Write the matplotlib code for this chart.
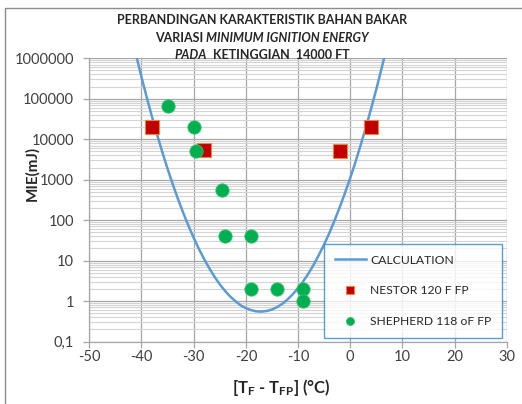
import matplotlib
matplotlib.use("Agg")
import matplotlib.pyplot as plt
from matplotlib.ticker import FixedLocator, LogLocator, NullFormatter
from matplotlib.patches import Rectangle

# ---- data ----
calc_x = list(range(-41, 8))
calc_mie = [1.15e6, 3.45e5, 1.1e5, 3.65e4, 1.29e4, 4.8e3, 1.87e3, 770, 333, 152,
            73, 37, 19.6, 11, 6.5, 4.0, 2.6, 1.8, 1.30, 1.0,
            0.79, 0.67, 0.60, 0.56, 0.55, 0.57, 0.62, 0.71, 0.86, 1.10,
            1.48, 2.08, 3.09, 4.8, 7.9, 13.8, 25, 48, 98, 209,
            468, 1096, 2700, 7100, 19500, 56000, 170000, 550000, 1860000]
nestor_x = [-38, -28, -2, 4]
nestor_mie = [20000, 5500, 5000, 20000]
shepherd_x = [-35, -30, -29.5, -24.5, -24, -19, -19, -14, -9, -9]
shepherd_mie = [65000, 20000, 5000, 560, 40, 40, 2, 2, 2, 1]
x_ticks = [-50, -40, -30, -20, -10, 0, 10, 20, 30]
x_tick_labels = ["-50", "-40", "-30", "-20", "-10", "0", "10", "20", "30"]
y_ticks = [0.1, 1, 10, 100, 1000, 10000, 100000, 1000000]
y_tick_labels = ["0,1", "1", "10", "100", "1000", "10000", "100000", "1000000"]
legend_labels = ["CALCULATION", "NESTOR 120 F FP", "SHEPHERD 118 oF FP"]

FONT = "Lato"
plt.rcParams["font.family"] = [FONT, "DejaVu Sans"]
plt.rcParams["axes.unicode_minus"] = False
plt.rcParams["mathtext.fontset"] = "custom"
plt.rcParams["mathtext.rm"] = FONT
plt.rcParams["mathtext.bf"] = FONT + ":bold"
plt.rcParams["mathtext.it"] = FONT + ":italic"

W, H = 522, 404
fig = plt.figure(figsize=(W / 100, H / 100), dpi=100)
fig.patch.set_facecolor("white")

def fx(px):
    return px / W

def fy(py):
    return 1 - py / H

# chart border (Excel chart area)
fig.add_artist(Rectangle((fx(5), fy(600)), fx(700), fy(8) - fy(600),
                         transform=fig.transFigure, fill=False,
                         edgecolor="#8c8c8c", lw=1.0))

ax_l, ax_r, ax_t, ax_b = 89.3, 506.7, 58.3, 341.6
ax = fig.add_axes([fx(ax_l), fy(ax_b), fx(ax_r - ax_l), fy(ax_t) - fy(ax_b)])
ax.set_facecolor("white")
ax.set_yscale("log")
ax.set_xlim(-50, 30)
ax.set_ylim(0.1, 1e6)

# grid
ax.xaxis.set_major_locator(FixedLocator(x_ticks))
ax.set_xticklabels(x_tick_labels)
ax.yaxis.set_major_locator(FixedLocator(y_ticks))
ax.yaxis.set_minor_locator(LogLocator(base=10, subs=range(2, 10), numticks=20))
ax.yaxis.set_minor_formatter(NullFormatter())
ax.set_yticklabels(y_tick_labels)
ax.grid(True, which="major", axis="both", color="#a6a6a6", lw=0.9)
ax.grid(True, which="minor", axis="y", color="#d4d4d4", lw=0.8)
ax.set_axisbelow(True)

for s in ["top", "right"]:
    ax.spines[s].set_visible(False)
for s in ["left", "bottom"]:
    ax.spines[s].set_color("#a6a6a6")
    ax.spines[s].set_linewidth(0.9)

ax.tick_params(axis="y", which="major", direction="out", length=4, width=0.9,
               color="#a6a6a6", pad=7, labelsize=10.5, labelcolor="#404040")
ax.tick_params(axis="y", which="minor", length=0)
ax.tick_params(axis="x", which="major", direction="out", length=4, width=0.9,
               color="#a6a6a6", pad=2, labelsize=10.5, labelcolor="#404040")

# series
ax.plot(calc_x, calc_mie, color="#5b9bd5", lw=1.8, label=legend_labels[0],
        zorder=3, clip_on=True)
ax.plot(nestor_x, nestor_mie, ls="none", marker="s", ms=9.6,
        mfc="#c00000", mec="#f4813a", mew=0.8, label=legend_labels[1], zorder=4)
ax.plot(shepherd_x, shepherd_mie, ls="none", marker="o", ms=9.6,
        mfc="#00b050", mec="#3cc070", mew=0.6, label=legend_labels[2], zorder=5)

leg = ax.legend(loc="lower right", bbox_to_anchor=(fx(502.3 - ax_l) / fx(ax_r - ax_l),
                                                  (ax_b - 338.3) / (ax_b - ax_t)),
                fontsize=8.7, frameon=True, fancybox=False, markerscale=0.6,
                labelspacing=1.65, borderpad=0.9, handlelength=2.6,
                handletextpad=0.35, borderaxespad=0)
leg.get_frame().set_edgecolor("#2e86c8")
leg.get_frame().set_linewidth(1.0)
for t in leg.get_texts():
    t.set_color("#262626")

# axis labels
fig.text(fx(281), fy(388), r"[T$_{\mathbf{F}}$ - T$_{\mathbf{FP}}$] (°C)",
         ha="center", va="center", fontsize=12, fontweight="bold", color="#262626")
fig.text(fx(32), fy(173), "MIE(mJ)", rotation=90, ha="center", va="center",
         fontsize=11, fontweight="bold", color="#262626")

# title (mixed bold / bold italic)
renderer = fig.canvas.get_renderer()
cx = fx(262)
TS = 9.0

def mixed_line(parts, ypx):
    texts = []
    for s, style in parts:
        t = fig.text(0, fy(ypx), s, fontsize=TS, fontweight="bold",
                     fontstyle=style, ha="left", va="center", color="#262626")
        texts.append(t)
    widths = [t.get_window_extent(renderer).width / W for t in texts]
    total = sum(widths)
    x0 = cx - total / 2
    for t, w in zip(texts, widths):
        t.set_x(x0)
        x0 += w

mixed_line([("PERBANDINGAN KARAKTERISTIK BAHAN BAKAR", "normal")], 20)
mixed_line([("VARIASI\u00a0", "normal"), ("MINIMUM IGNITION ENERGY", "italic")], 37.5)
mixed_line([("PADA", "italic"), ("\u00a0\u00a0KETINGGIAN\u00a0\u00a014000 FT", "normal")], 55)

fig.savefig("out.png", dpi=100, facecolor="white")
